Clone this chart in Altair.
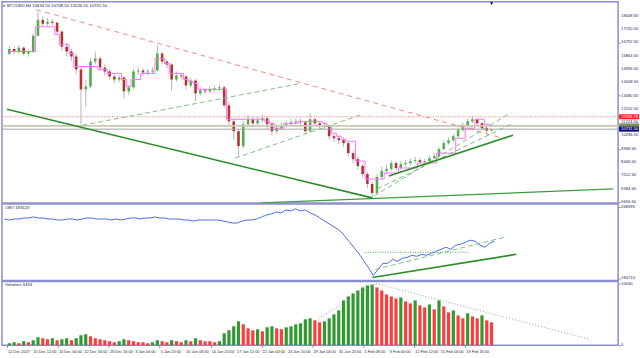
import altair as alt
import pandas as pd

FONT = "Liberation Sans"

title_text = "BTCUSD,H4  10634.50 10748.50 10526.50 10731.50"
obv_title = "OBV 183523"
vol_title = "Volumes 3433"

time_labels = ["12 Dec 2017", "15 Dec 12:00", "20 Dec 00:00", "22 Dec 16:00", "28 Dec 16:00",
               "3 Jan 04:00", "5 Jan 20:00", "10 Jan 08:00", "14 Jan 20:00", "17 Jan 12:00",
               "22 Jan 00:00", "24 Jan 16:00", "29 Jan 04:00", "31 Jan 20:00", "5 Feb 08:00",
               "8 Feb 00:00", "12 Feb 12:00", "15 Feb 04:00", "19 Feb 16:00"]
bars_per_label = 16
bars_per_candle = 3
first_open = 16000

price_ticks = [18648.50, 17720.50, 16792.50, 15864.50, 14936.50, 14008.50, 13080.50, 12152.50,
               11224.50, 10296.50, 9368.50, 8440.50, 7512.50, 6584.50, 5656.50]
obv_ticks = [268395, 180710]
vol_ticks = [10030, 0]

close = [16330, 16150, 16420, 16010, 16150, 17260, 18370, 18090, 18230, 18160,
         17540, 16490, 16150, 15800, 14900, 13510, 13715, 15450, 15660, 15030,
         14760, 14410, 14200, 14340, 13370, 13650, 14760, 14830, 14690, 14760,
         14830, 16010, 15450, 15240, 14200, 14480, 14410, 13785, 14130, 13230,
         13440, 13370, 13510, 13580, 13650, 12395, 11280, 10590, 9550, 11075,
         11420, 11140, 11350, 11490, 11075, 10590, 10800, 11005, 11075, 11210,
         11280, 11210, 10590, 11420, 11140, 11005, 10935, 10240, 10100, 9960,
         9755, 9060, 8640, 8160, 7600, 6905, 6280, 7390, 7810, 7950,
         8365, 8020, 8295, 8365, 8500, 8570, 8435, 8500, 8710, 8850,
         9340, 9755, 9960, 10240, 10660, 11005, 11280, 11420, 11140, 10800,
         10634.5, 10731.5]

high = [16560, 16500, 16620, 16520, 16300, 17400, 18930, 18600, 18480, 18420,
        18250, 17650, 16750, 16350, 16000, 15100, 14200, 15700, 16150, 15800,
        15250, 14900, 14550, 14500, 14450, 13800, 14950, 15100, 15000, 14950,
        15050, 16630, 16150, 15600, 15350, 14750, 14650, 14500, 14300, 14250,
        13650, 13600, 13700, 13800, 13900, 13750, 12600, 11500, 10700, 11300,
        11700, 11600, 11600, 11750, 11600, 11200, 11000, 11200, 11350, 11450,
        11500, 11450, 11300, 11840, 11550, 11300, 11200, 11000, 10400, 10300,
        10150, 9850, 9200, 8800, 8300, 7750, 7100, 7600, 8100, 8250,
        8600, 8500, 8500, 8600, 8700, 8800, 8700, 8650, 8900, 9050,
        9500, 9950, 10150, 10400, 10850, 11200, 11450, 11630, 11500, 11250,
        10950, 10748.5]

low = [15900, 15980, 16000, 15870, 15800, 16050, 17200, 17900, 17950, 17980,
       17350, 16200, 15800, 15500, 14600, 11075, 12300, 13600, 15250, 14800,
       14500, 14200, 13950, 14000, 12880, 13150, 13550, 14550, 14450, 14500,
       14600, 14750, 15250, 15000, 13400, 14050, 14200, 13500, 13650, 12670,
       13050, 13200, 13250, 13350, 13400, 12200, 10900, 10000, 8850, 9400,
       10900, 10850, 10950, 11200, 10700, 10300, 10400, 10650, 10850, 10950,
       11050, 11000, 10380, 10500, 10950, 10800, 10700, 10000, 9850, 9700,
       9500, 8800, 8350, 7900, 7350, 6600, 5935, 6150, 7250, 7650,
       7800, 7850, 7900, 8100, 8200, 8350, 8250, 8300, 8400, 8600,
       8750, 9250, 9650, 9850, 10150, 10550, 10900, 11150, 10950, 10650,
       10350, 10526.5]

pink = [16150, 16150, 16150, 16150, 16150, 16150, 17880, 17880, 17880, 17880,
        17330, 16630, 16630, 16010, 15100, 15100, 15100, 15100, 15100, 14900,
        14900, 14620, 14620, 14620, 14200, 13720, 14200, 14200, 14620, 14620,
        14620, 15660, 15660, 15310, 14620, 14620, 14620, 14200, 14060, 13920,
        13510, 13510, 13510, 13510, 13510, 13510, 11420, 11420, 11420, 11420,
        11420, 11420, 11420, 11420, 11280, 11140, 10800, 10800, 11140, 11140,
        11140, 11280, 11280, 11280, 11280, 11280, 11140, 10940, 10450, 10240,
        10030, 9890, 9890, 8500, 8500, 7250, 7250, 7250, 7250, 7670,
        7670, 7670, 8020, 8020, 8020, 8020, 8370, 8370, 8370, 8370,
        9060, 9060, 9060, 9060, 10100, 10100, 10800, 10800, 11420, 11420,
        11070, 10940]

volume = [324, 485, 324, 647, 485, 809, 1294, 1133, 971, 1133,
          809, 971, 1133, 809, 1133, 1618, 1780, 1456, 1133, 971,
          809, 647, 485, 647, 971, 809, 647, 485, 485, 324,
          485, 809, 647, 485, 809, 647, 485, 809, 647, 1133,
          809, 647, 647, 485, 647, 1942, 2427, 3074, 3883, 3400,
          2751, 2427, 2590, 2265, 2912, 3074, 2751, 2590, 2912, 3074,
          3400, 3560, 4207, 4369, 4045, 3721, 3883, 4369, 5016, 5663,
          7281, 7928, 8414, 8899, 9384, 9708, 9870, 9384, 8899, 8252,
          7928, 7605, 7766, 7119, 6796, 7281, 6472, 6148, 6634, 5825,
          7281, 6310, 5339, 5663, 4854, 4369, 5178, 4692, 4369, 4854,
          4045, 3721]

obv = [253575, 252340, 253575, 253575, 254810, 254810, 256045, 254810, 254810, 253575,
       253575, 252340, 252340, 253575, 253575, 252340, 253575, 254810, 254810, 253575,
       253575, 253575, 252340, 253575, 252340, 253575, 254810, 254810, 253575, 254810,
       254810, 256045, 254810, 254810, 253575, 253575, 253575, 252340, 252340, 251105,
       252340, 252340, 252340, 252340, 252340, 251105, 249870, 248635, 248635, 251105,
       252340, 252340, 253575, 256045, 258515, 259750, 262220, 260985, 264690, 263455,
       265925, 263455, 264690, 260985, 258515, 254810, 251105, 247400, 243695, 239990,
       233815, 226405, 218995, 211585, 202940, 194295, 184415, 191825, 199235, 199235,
       204175, 201705, 205410, 206645, 209115, 207880, 210350, 209115, 211585, 214055,
       216525, 218995, 216525, 221465, 222700, 225170, 227640, 226405, 221465, 218995,
       223935, 226405]

# trend objects: (line id, bar position, value)
price_red_dash = [("r1", 18.5, 19065), ("r1", 313.8, 10033)]
price_green_thick = [("g1", 0, 12117), ("g1", 229.5, 5934), ("g2", 240, 7462), ("g2", 318, 10311)]
price_green_mid = [("m1", 160, 5586), ("m1", 381, 6559)]
price_green_dash = [("d1", 47.4, 11006), ("d1", 184.6, 13924),
                    ("d2", 143.4, 8713), ("d2", 223.4, 11770),
                    ("d3", 230.8, 6073), ("d3", 315, 11770),
                    ("d4", 232.6, 6559), ("d4", 318, 11145)]
red_level = 11594.76
grey_level = 10960
bid_level = 10731.5

obv_green_thick = [("o1", 229, 181945), ("o1", 318, 210350)]
obv_green_dot = [("o2", 224.6, 212820), ("o2", 289.2, 212820)]
obv_green_dash = [("o3", 230.8, 191825), ("o3", 310.8, 231345)]

vol_dots = [("v1", 195.7, 4369), ("v1", 232, 10032), ("v2", 232, 10032), ("v2", 366, 971)]

# ---------------- data frames ----------------
n = len(close)
opens = [first_open] + close[:-1]
t = [bars_per_candle * i + bars_per_candle / 2 for i in range(n)]
df = pd.DataFrame({"t": t, "open": opens, "close": close, "high": high, "low": low,
                   "pink": pink, "volume": volume, "obv": obv})
up_vol = [True] + [volume[i] > volume[i - 1] for i in range(1, n)]
df["vcol"] = ["up" if u else "down" for u in up_vol]

def lines(rows):
    return pd.DataFrame(rows, columns=["id", "t", "v"])

XMAX = 619 / 1.625
xs = alt.Scale(domain=[0, XMAX], nice=False, zero=False)
W = 619
LABEL_COLOR = "#26265a"
LFS = 4.2

def yaxis(values):
    return alt.Axis(values=values, orient="right", labels=False, tickSize=2,
                    tickColor="#8080c0", domain=False, grid=False, title=None)

def right_labels(values, texts, scale):
    d = pd.DataFrame({"v": values, "s": texts})
    return alt.Chart(d).mark_text(align="left", baseline="middle", font=FONT, fontSize=LFS,
                                  color=LABEL_COLOR).encode(
        x=alt.value(W + 3), y=alt.Y("v:Q", scale=scale), text="s:N")

def trend(rows, color, width, dash=None, scale=None):
    kw = dict(color=color, strokeWidth=width)
    if dash:
        kw["strokeDash"] = dash
    return alt.Chart(lines(rows)).mark_line(**kw).encode(
        x=alt.X("t:Q", scale=xs), y=alt.Y("v:Q", scale=scale), detail="id:N")

def corner_label(text, ypix):
    return alt.Chart(pd.DataFrame({"s": [text]})).mark_text(
        align="left", baseline="middle", font=FONT, fontSize=4.3, color="#222244").encode(
        x=alt.value(3), y=alt.value(ypix), text="s:N")

# ---------------- main panel ----------------
ys = alt.Scale(domain=[5586, 19621], nice=False, zero=False)
base = alt.Chart(df)
wick = base.mark_rule(color="#b4b4b4", strokeWidth=1).encode(
    x=alt.X("t:Q", scale=xs, axis=None),
    y=alt.Y("low:Q", scale=ys, axis=yaxis(price_ticks)),
    y2="high:Q")
body = base.mark_bar(size=2.6).encode(
    x="t:Q", y="open:Q", y2="close:Q",
    color=alt.condition("datum.close >= datum.open", alt.value("#4caf50"), alt.value("#b5322f")))
pinkline = base.mark_line(interpolate="step", color="#ff70ff", strokeWidth=1).encode(
    x="t:Q", y="pink:Q")

red_dash = trend(price_red_dash, "#f28a80", 1, [5, 4], ys)
green_thick = trend(price_green_thick, "#2a8c2a", 1.6, None, ys)
green_mid = trend(price_green_mid, "#3d9e3d", 1.2, None, ys)
green_dash = trend(price_green_dash, "#7cc27c", 1, [5, 3], ys)

levels = pd.DataFrame({"v": [red_level, grey_level, bid_level],
                       "kind": ["red", "grey", "bid"]})
red_rule = alt.Chart(levels[levels.kind == "red"]).mark_rule(
    color="#ff6b6b", strokeWidth=1, strokeDash=[1, 1.5]).encode(y=alt.Y("v:Q", scale=ys))
grey_rule = alt.Chart(levels[levels.kind == "grey"]).mark_rule(
    color="#c9c9b3", strokeWidth=1.6).encode(y=alt.Y("v:Q", scale=ys))
bid_rule = alt.Chart(levels[levels.kind == "bid"]).mark_rule(
    color="#a3a3a3", strokeWidth=1).encode(y=alt.Y("v:Q", scale=ys))

price_labels = right_labels(price_ticks, ["%.2f" % v for v in price_ticks], ys)

box_half = 175
boxes = pd.DataFrame({"v": [red_level, grey_level, bid_level],
                      "lab": ["11594.76", "", "10731.50"],
                      "fill": ["#ff1a1a", "#7d8f56", "#0a0a7a"]})
boxes["top"] = boxes["v"] + box_half
boxes["bot"] = boxes["v"] - box_half
box_rect = alt.Chart(boxes).mark_rect().encode(
    x=alt.value(W + 1), x2=alt.value(W + 21),
    y=alt.Y("top:Q", scale=ys), y2="bot:Q",
    color=alt.Color("fill:N", scale=None))
box_text = alt.Chart(boxes).mark_text(align="left", baseline="middle", font=FONT,
                                      fontSize=LFS, color="white").encode(
    x=alt.value(W + 3), y=alt.Y("v:Q", scale=ys), text="lab:N")

title_df = pd.DataFrame({"s": [title_text]})
title_mark = alt.Chart(title_df).mark_text(align="left", baseline="middle", font=FONT,
                                           fontSize=4.3, color="#222244").encode(
    x=alt.value(5), y=alt.value(4.5), text="s:N")
icon = alt.Chart(title_df).mark_point(shape="triangle-down", filled=True, size=5,
                                      color="#3050b0", opacity=1).encode(
    x=alt.value(2), y=alt.value(4.5))
shift_df = pd.DataFrame({"t": [t[-1]]})
shift = alt.Chart(shift_df).mark_point(shape="triangle-down", filled=True, size=10,
                                       color="black", opacity=1).encode(
    x=alt.X("t:Q", scale=xs), y=alt.value(1.8))

main = alt.layer(wick, body, pinkline, red_rule, grey_rule, bid_rule, red_dash, green_dash,
                 green_mid, green_thick, price_labels, box_rect, box_text, title_mark, icon,
                 shift).properties(width=W, height=202)

# ---------------- OBV panel ----------------
os_ = alt.Scale(domain=[178240, 272100], nice=False, zero=False)
obv_line = base.mark_line(color="#4a6ee0", strokeWidth=1).encode(
    x=alt.X("t:Q", scale=xs, axis=None),
    y=alt.Y("obv:Q", scale=os_, axis=yaxis(obv_ticks)))
o_thick = trend(obv_green_thick, "#2a8c2a", 1.6, None, os_)
o_dot = trend(obv_green_dot, "#4aa84a", 1, [1, 1.5], os_)
o_dash = trend(obv_green_dash, "#7cc27c", 1, [5, 3], os_)
obv_labels = right_labels(obv_ticks, [str(v) for v in obv_ticks], os_)
obv_chart = alt.layer(obv_line, o_dash, o_dot, o_thick, obv_labels,
                      corner_label(obv_title, 4.5)).properties(width=W, height=77)

# ---------------- Volume panel ----------------
VH = 64
vs = alt.Scale(domain=[0, 10030 * 64 / 62], nice=False, zero=True)
label_pos = [bars_per_label * k for k in range(len(time_labels))]
x_axis = alt.Axis(values=label_pos, labels=False, tickSize=2, tickColor="#8080c0",
                  domain=False, grid=False, title=None)
vol_bars = base.mark_bar(size=3.2).encode(
    x=alt.X("t:Q", scale=xs, axis=x_axis),
    y=alt.Y("volume:Q", scale=vs, axis=yaxis(vol_ticks)),
    color=alt.Color("vcol:N", scale=alt.Scale(domain=["up", "down"],
                                              range=["#2f9a2f", "#ff3b3b"]), legend=None))
v_dots = trend(vol_dots, "#9a9a9a", 1, [1, 2], vs)
vol_labels = right_labels(vol_ticks, [str(v) for v in vol_ticks], vs)
time_df = pd.DataFrame({"t": label_pos, "s": time_labels})
time_text = alt.Chart(time_df).mark_text(align="left", baseline="middle", font=FONT,
                                         fontSize=3.9, color=LABEL_COLOR, dx=1).encode(
    x=alt.X("t:Q", scale=xs), y=alt.value(VH + 7), text="s:N")
vol_chart = alt.layer(vol_bars, v_dots, vol_labels, time_text,
                      corner_label(vol_title, 3.5)).properties(width=W, height=VH)

chart = alt.vconcat(main, obv_chart, vol_chart, spacing=1, bounds="flush").configure(
    padding={"left": 0, "top": 0, "right": 0, "bottom": 0}, background="white"
).configure_view(stroke="#8c8cd0", strokeWidth=1.5)

chart.save("out.html", embed_options={"renderer": "svg", "actions": False})
